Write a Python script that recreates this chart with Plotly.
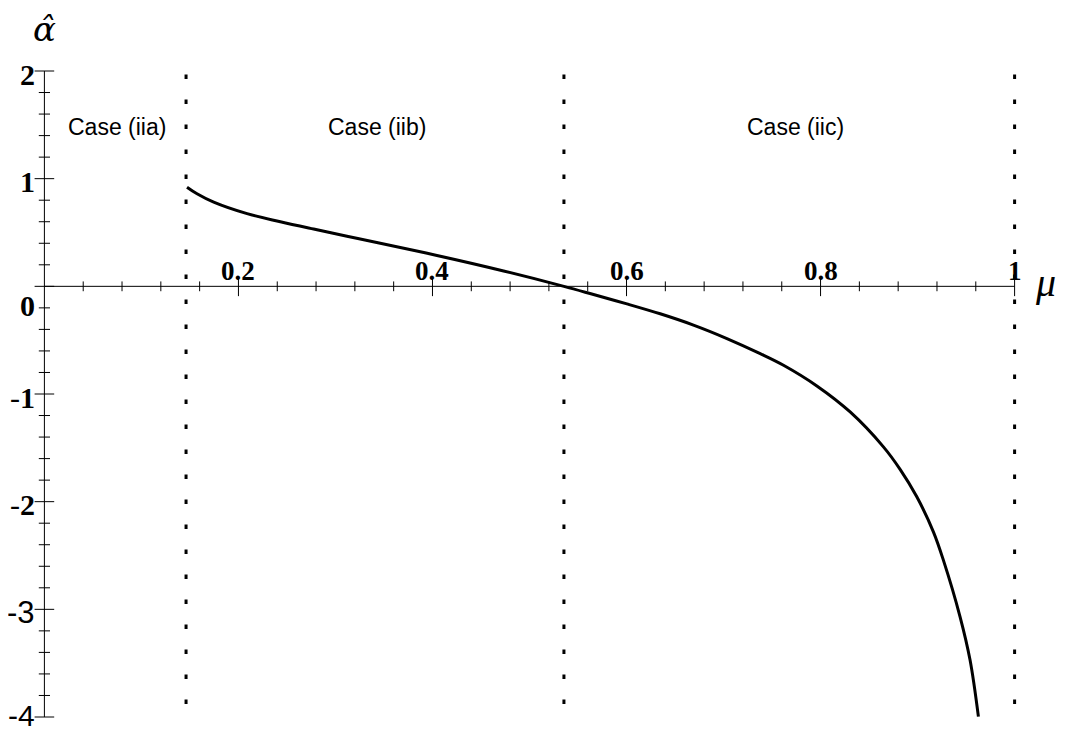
import plotly.graph_objects as go

# ---- data ----
mu = [0.1470, 0.1573, 0.1745, 0.2089, 0.2432, 0.2775, 0.3119, 0.3462, 0.4046,
      0.4733, 0.5355, 0.5660, 0.6004, 0.6347, 0.6690, 0.7035, 0.7378, 0.7618,
      0.7962, 0.8305, 0.8648, 0.8820, 0.8992, 0.9163, 0.9266, 0.9438, 0.9541,
      0.9627]
alpha = [0.921, 0.860, 0.782, 0.675, 0.600, 0.532, 0.466, 0.400, 0.287,
         0.143, 0.000, -0.076, -0.163, -0.255, -0.360, -0.485, -0.625, -0.733,
         -0.925, -1.167, -1.491, -1.700, -1.955, -2.280, -2.543, -3.069, -3.471,
         -3.997]

boundaries = [0.146, 0.5355, 1.0]
case_labels = ["Case (iia)", "Case (iib)", "Case (iic)"]
case_x = [0.0752, 0.343, 0.774]
case_y = 1.476

x_axis_span = [0.0, 1.0]
y_axis_span = [-4.0, 2.0]
x_view = [-0.02, 1.02]
y_view = [-4.0, 2.0]

x_major = [0.2, 0.4, 0.6, 0.8, 1.0]
x_major_labels = ["0.2", "0.4", "0.6", "0.8", "1"]
x_minor = [round(0.04 * i, 2) for i in range(1, 25) if i % 5 != 0]

y_major = [2, 1, 0, -1, -2, -3, -4]
y_major_labels = ["<b>2</b>", "<b>1</b>", "<b>0</b>", "-<b>1</b>", "-<b>2</b>", "-3", "-4"]
y_label_fonts = ["Liberation Serif"] * 5 + ["Liberation Sans"] * 2
y_label_sizes = [30] * 5 + [31, 30]
y_label_shifts = [-3, -3, -19, -3, -3, -3, 2]
y_minor = [round(-4 + 0.2 * i, 1) for i in range(0, 31) if i % 5 != 0]

fig = go.Figure()

# axis lines
fig.add_trace(go.Scatter(x=x_axis_span, y=[0, 0], mode="lines",
                         line=dict(color="black", width=1), hoverinfo="skip", cliponaxis=False))
fig.add_trace(go.Scatter(x=[0, 0], y=y_axis_span, mode="lines",
                         line=dict(color="black", width=1), hoverinfo="skip", cliponaxis=False))

# ticks
fig.add_trace(go.Scatter(x=x_minor, y=[0] * len(x_minor), mode="markers",
                         marker=dict(symbol="line-ns", size=7, line=dict(color="black", width=1)),
                         hoverinfo="skip", cliponaxis=False))
fig.add_trace(go.Scatter(x=x_major, y=[0] * len(x_major), mode="markers",
                         marker=dict(symbol="line-ns", size=14, line=dict(color="black", width=1)),
                         hoverinfo="skip", cliponaxis=False))
fig.add_trace(go.Scatter(x=[0] * len(y_minor), y=y_minor, mode="markers",
                         marker=dict(symbol="line-ew", size=8, line=dict(color="black", width=1)),
                         hoverinfo="skip", cliponaxis=False))
fig.add_trace(go.Scatter(x=[0] * len(y_major), y=y_major, mode="markers",
                         marker=dict(symbol="line-ew", size=14, line=dict(color="black", width=1)),
                         hoverinfo="skip", cliponaxis=False))

# dotted boundaries
for b in boundaries:
    fig.add_trace(go.Scatter(x=[b, b], y=[y_axis_span[1], y_axis_span[0]], mode="lines",
                             line=dict(color="black", width=3, dash="0px,3.5px,4.5px,17px"),
                             hoverinfo="skip", cliponaxis=False))

# curve
fig.add_trace(go.Scatter(x=mu, y=alpha, mode="lines",
                         line=dict(color="black", width=3, shape="spline", smoothing=1.0),
                         hoverinfo="skip", cliponaxis=False))

annotations = []
for xv, lab in zip(x_major, x_major_labels):
    annotations.append(dict(x=xv, y=0, xref="x", yref="y", text="<b>" + lab + "</b>",
                            showarrow=False, xanchor="center", yanchor="middle", yshift=15,
                            font=dict(family="Liberation Serif", size=27, color="black")))
for yv, lab, fnt, sz, sh in zip(y_major, y_major_labels, y_label_fonts, y_label_sizes, y_label_shifts):
    annotations.append(dict(x=0, y=yv, xref="x", yref="y", text=lab,
                            showarrow=False, xanchor="right", yanchor="middle",
                            xshift=-7, yshift=sh,
                            font=dict(family=fnt, size=sz, color="black")))
for cx, cl in zip(case_x, case_labels):
    annotations.append(dict(x=cx, y=case_y, xref="x", yref="y", text=cl, showarrow=False,
                            xanchor="center", yanchor="middle",
                            font=dict(family="Liberation Sans", size=23, color="black")))
annotations.append(dict(x=0, y=2, xref="x", yref="y", text="<i>α\u0302</i>", showarrow=False,
                        xanchor="center", yanchor="middle", yshift=42,
                        font=dict(family="DejaVu Serif", size=34, color="black")))
annotations.append(dict(x=1, y=0, xref="x", yref="y", text="<i>μ</i>", showarrow=False,
                        xanchor="center", yanchor="middle", xshift=31, yshift=4,
                        font=dict(family="Liberation Serif", size=40, color="black")))

# margins compensate the page's 8px body offset
fig.update_layout(
    width=1070, height=735,
    margin=dict(l=16.6, r=43.6, t=63, b=26),
    paper_bgcolor="white", plot_bgcolor="white",
    showlegend=False,
    annotations=annotations,
    xaxis=dict(range=x_view, visible=False, showgrid=False, zeroline=False, fixedrange=True),
    yaxis=dict(range=y_view, visible=False, showgrid=False, zeroline=False, fixedrange=True),
)

fig.write_html("out.html")
